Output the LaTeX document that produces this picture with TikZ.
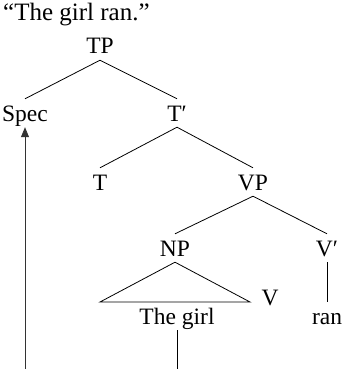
\documentclass[tikz,border=0pt]{standalone}
\usepackage{fontspec}
\setmainfont{Liberation Serif}
\usetikzlibrary{arrows.meta}
\begin{document}
\begin{tikzpicture}[x=1pt,y=-1pt,
  lbl/.style={font=\fontsize{23.5}{28}\selectfont, anchor=base, inner xsep=0pt,
    text height=16pt, text depth=0pt, inner ysep=6pt},
  branch/.style={line width=0.8pt},
  move/.style={line width=0.8pt, draw=black!80, -{Triangle[length=10pt,width=8pt]}}]
\useasboundingbox (0,0) rectangle (344,369);
\node[font=\fontsize{25}{29}\selectfont, anchor=base west, inner sep=0pt] (title) at (3,21) {“The girl ran.”};
\node[lbl] (TP) at (100,54) {TP};
\node[lbl] (Spec) at (25,121) {Spec};
\node[lbl] (Tbar) at (177,121) {T′};
\node[lbl] (T) at (100,190) {T};
\node[lbl] (VP) at (253,190) {VP};
\node[lbl] (NP) at (175,256) {NP};
\node[lbl] (Vbar) at (327,256) {V′};
\node[lbl] (V) at (270,305) {V};
\node[lbl] (girl) at (177,324) {The girl};
\node[lbl] (ran) at (327,324) {ran};
\coordinate (triL) at (100,302);
\coordinate (triR) at (250,302);
\coordinate (bottomA) at (25,369);
\coordinate (bottomB) at (177,369);
\draw[branch] (Spec.north) -- (TP.south) -- (Tbar.north);
\draw[branch] (T.north) -- (Tbar.south) -- (VP.north);
\draw[branch] (NP.north) -- (VP.south) -- (Vbar.north);
\draw[branch] (NP.south) -- (triL) -- (triR) -- cycle;
\draw[branch] (Vbar.south) -- (ran.north);
\draw[branch] (girl.south) -- (bottomB);
\draw[move] (bottomA) -- (Spec.south);
\end{tikzpicture}
\end{document}
